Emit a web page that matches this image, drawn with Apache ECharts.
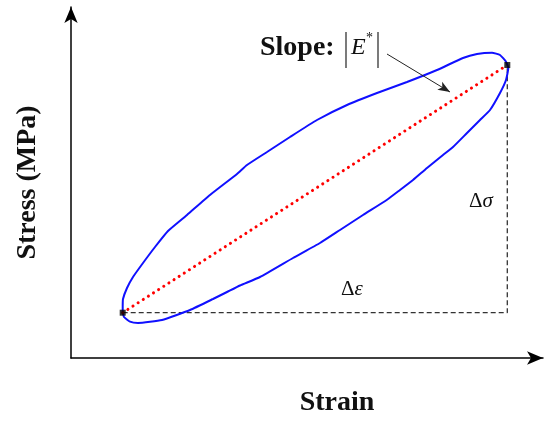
<!DOCTYPE html>
<html>
<head>
<meta charset="utf-8">
<script src="https://cdn.jsdelivr.net/npm/echarts@6/dist/echarts.min.js"></script>
<style>html,body{margin:0;padding:0;background:#fff}#c{width:547px;height:421px}</style>
</head>
<body>
<div id="c"></div>
<script>
// Hysteresis loop (strain, stress) in arbitrary units
const strainLoop = [51.7,52,56,62,72,84,97,116,139,166,176,196,219,246,276,306,336,366,392,406,421,429,435,437.3,
  435,429,419,409,396,382,372,356,342,329,315.7,292,269,249,222,189,169,156,142,119,91,67,59,53,51.7,51.7];
const stressLoop = [52,59,70,81,95,111,127,143,163,184,193,206,221,238,253,265,276,288,300,304,305.3,303,296.3,290,
  278,265,248,238,225,211,203,190,178,168,158,143,128,115,100,81,72.5,66,59,48,38,35,36.3,41,46,52];
// Peak points of the cycle
const strainPeaks = [51.7, 436.3];
const stressPeaks = [45.3, 293];
// Slope annotation arrow (from, to)
const arrowStrain = [316, 379];
const arrowStress = [304, 266];
const xTitle = 'Strain';
const yTitle = 'Stress (MPa)';

const chart = echarts.init(document.getElementById('c'));
const serif = '"Liberation Serif", "Times New Roman", serif';
const loop = strainLoop.map((x, i) => [x, stressLoop[i]]);
const axisLine = {show: true, symbol: ['none', 'arrow'], symbolSize: [10, 16], lineStyle: {color: '#000', width: 1.5}};

chart.setOption({
  animation: false,
  grid: {left: 71, right: 4, top: 7, bottom: 63, outerBoundsMode: 'none', containLabel: false},
  xAxis: {
    type: 'value', min: 0, max: 472,
    axisLine: axisLine, axisTick: {show: false}, axisLabel: {show: false}, splitLine: {show: false},
    name: xTitle, nameLocation: 'middle', nameGap: 31,
    nameTextStyle: {fontFamily: serif, fontWeight: 'bold', fontSize: 28, color: '#111', padding: [0, 0, 0, 60]}
  },
  yAxis: {
    type: 'value', min: 0, max: 351,
    axisLine: axisLine, axisTick: {show: false}, axisLabel: {show: false}, splitLine: {show: false},
    name: yTitle, nameLocation: 'middle', nameGap: 29,
    nameTextStyle: {fontFamily: serif, fontWeight: 'bold', fontSize: 28, color: '#111'}
  },
  series: [
    {
      type: 'line', data: [[strainPeaks[0], stressPeaks[0]], [strainPeaks[1], stressPeaks[0]], [strainPeaks[1], stressPeaks[1]]],
      symbol: 'none', lineStyle: {color: '#333', width: 1.3, type: [5, 3]}, z: 1
    },
    {
      type: 'line', data: loop, smooth: 0.15, symbol: 'none',
      lineStyle: {color: '#1010ff', width: 2}, z: 2
    },
    {
      type: 'line', data: [[strainPeaks[0], stressPeaks[0]], [strainPeaks[1], stressPeaks[1]]],
      symbol: 'none', lineStyle: {color: '#ff0000', width: 3, type: [0.1, 6], cap: 'round'}, z: 3
    },
    {
      type: 'scatter', data: [[strainPeaks[0], stressPeaks[0]], [strainPeaks[1], stressPeaks[1]]],
      symbol: 'rect', symbolSize: 6, itemStyle: {color: '#000'}, z: 4,
      markLine: {
        silent: true, symbol: ['none', 'arrow'], symbolSize: [7, 12],
        lineStyle: {color: '#222', width: 1, type: 'solid'}, label: {show: false},
        data: [[{coord: [arrowStrain[0], arrowStress[0]]}, {coord: [arrowStrain[1], arrowStress[1]]}]]
      }
    }
  ],
  graphic: [
    {type: 'text', left: 260, top: 34, style: {text: 'Slope:', font: 'bold 28px ' + serif, fill: '#111'}},
    {type: 'line', shape: {x1: 346, y1: 32, x2: 346, y2: 68}, style: {stroke: '#333', lineWidth: 1.3}},
    {type: 'line', shape: {x1: 378, y1: 32, x2: 378, y2: 68}, style: {stroke: '#333', lineWidth: 1.3}},
    {type: 'text', x: 351, y: 48, style: {text: 'E', font: 'italic 24px ' + serif, fill: '#111', verticalAlign: 'middle'}},
    {type: 'text', x: 366, y: 38, style: {text: '*', font: '14px ' + serif, fill: '#111', verticalAlign: 'middle'}},
    {type: 'text', x: 481, y: 201, style: {text: '{a|Δ}{b|σ}', align: 'center', verticalAlign: 'middle',
      rich: {a: {font: '21px ' + serif, fill: '#111'}, b: {font: 'italic 21px ' + serif, fill: '#111'}}}},
    {type: 'text', x: 352, y: 289, style: {text: '{a|Δ}{b|ε}', align: 'center', verticalAlign: 'middle',
      rich: {a: {font: '21px ' + serif, fill: '#111'}, b: {font: 'italic 21px ' + serif, fill: '#111'}}}}
  ]
});
</script>
</body>
</html>
